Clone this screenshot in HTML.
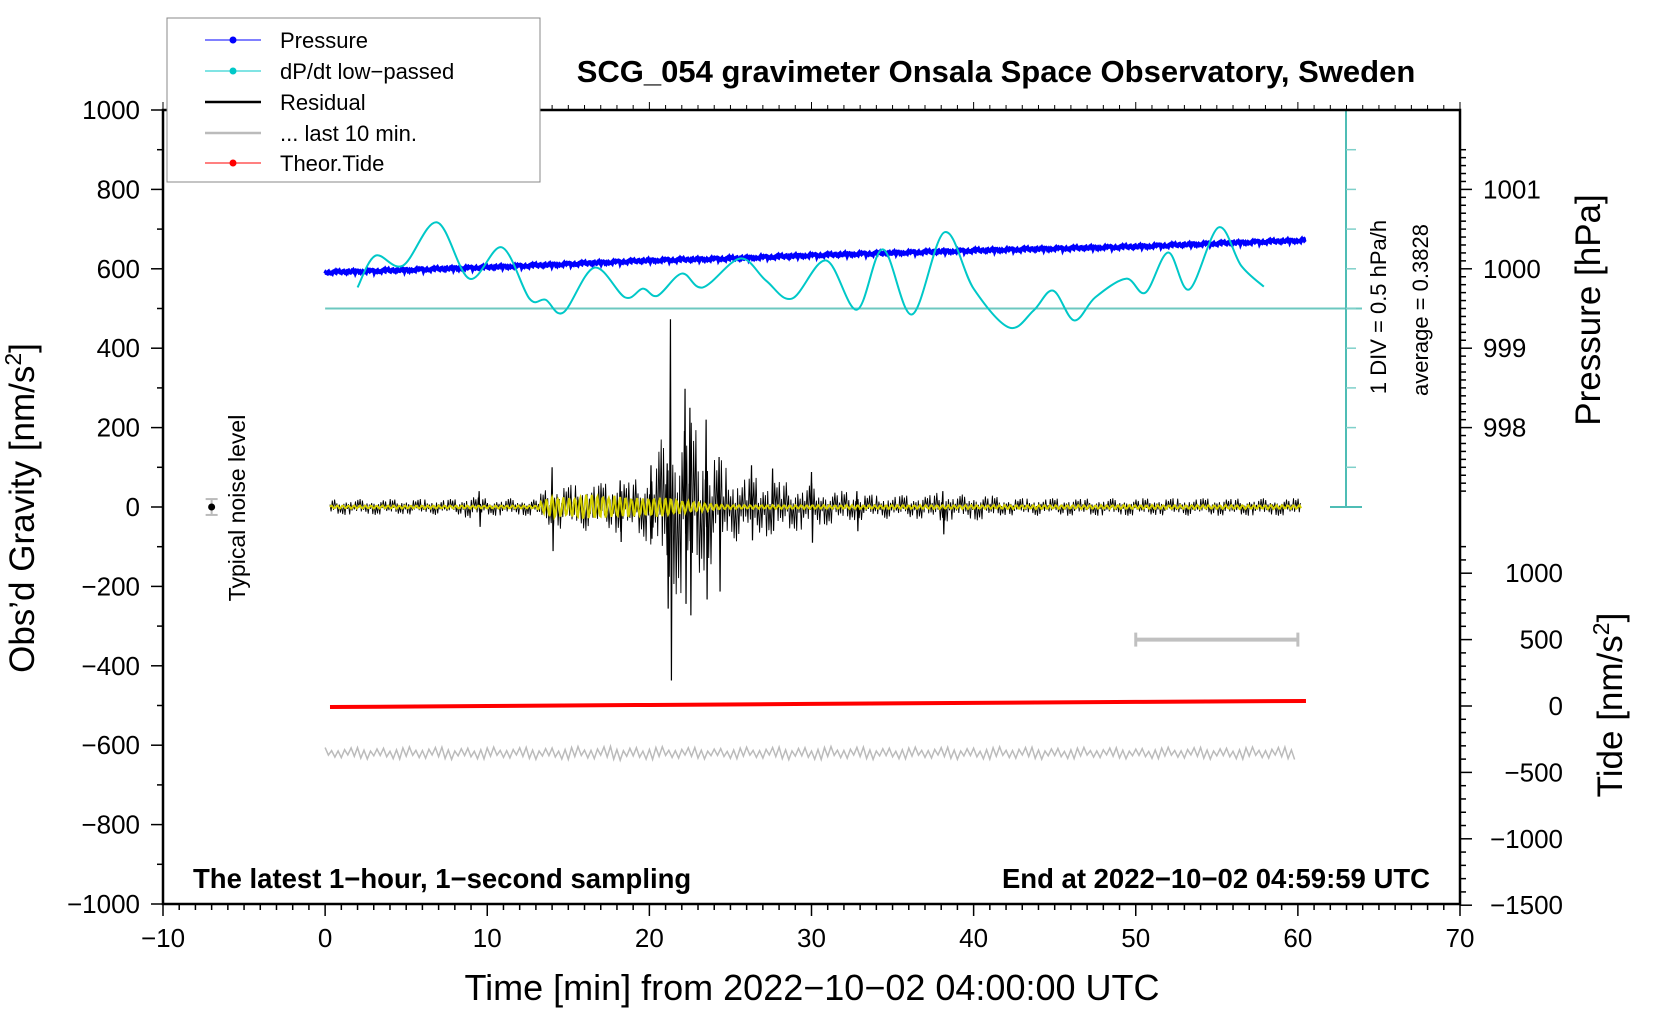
<!DOCTYPE html>
<html><head><meta charset="utf-8">
<style>
body{margin:0;background:#fff;}
svg{display:block;font-family:"Liberation Sans",Arial,sans-serif;}
</style></head>
<body>
<svg id="chart" width="1660" height="1020" viewBox="0 0 1660 1020" xmlns="http://www.w3.org/2000/svg">
<rect x="0" y="0" width="1660" height="1020" fill="#fff"/>
<g id="marks"></g>
<g id="axes"></g>
<text x="996" y="82" font-size="31" font-weight="bold" text-anchor="middle">SCG_054 gravimeter Onsala Space Observatory, Sweden</text>
<text x="193" y="888" font-size="27.5" font-weight="bold">The latest 1−hour, 1−second sampling</text>
<text x="1430" y="888" font-size="27.5" font-weight="bold" text-anchor="end">End at 2022−10−02 04:59:59 UTC</text>
<text x="812" y="1000" font-size="36" text-anchor="middle">Time [min] from 2022−10−02 04:00:00 UTC</text>
<text transform="translate(34,508) rotate(-90)" font-size="35" text-anchor="middle">Obs’d Gravity [nm/s<tspan font-size="23" dy="-13">2</tspan><tspan dy="13">]</tspan></text>
<text transform="translate(1600,310) rotate(-90)" font-size="35" text-anchor="middle">Pressure [hPa]</text>
<text transform="translate(1622,705) rotate(-90)" font-size="35" text-anchor="middle">Tide [nm/s<tspan font-size="23" dy="-13">2</tspan><tspan dy="13">]</tspan></text>
<text transform="translate(1386,307) rotate(-90)" font-size="22" text-anchor="middle">1 DIV = 0.5 hPa/h</text>
<text transform="translate(1428,310) rotate(-90)" font-size="22" text-anchor="middle">average = 0.3828</text>
<text transform="translate(245,508) rotate(-90)" font-size="23" text-anchor="middle">Typical noise level</text>
<g>
<rect x="167" y="18" width="373" height="164" fill="#fff" stroke="#888" stroke-width="1"/>
<g><line x1="205" y1="40" x2="261" y2="40" stroke="#00f" stroke-width="1"/><circle cx="233" cy="40" r="3.5" fill="#00f"/><text x="280" y="48" font-size="22">Pressure</text></g>
<g><line x1="205" y1="71" x2="261" y2="71" stroke="#00c8c8" stroke-width="1"/><circle cx="233" cy="71" r="3.5" fill="#00c8c8"/><text x="280" y="79" font-size="22">dP/dt low−passed</text></g>
<g><line x1="205" y1="102" x2="261" y2="102" stroke="#000" stroke-width="2.5"/><text x="280" y="110" font-size="22">Residual</text></g>
<g><line x1="205" y1="133" x2="261" y2="133" stroke="#bbb" stroke-width="2.5"/><text x="280" y="141" font-size="22">... last 10 min.</text></g>
<g><line x1="205" y1="163" x2="261" y2="163" stroke="#f00" stroke-width="1"/><circle cx="233" cy="163" r="3.5" fill="#f00"/><text x="280" y="171" font-size="22">Theor.Tide</text></g>
</g>
</svg>
<script>
// ---- data ----
const xTicks = [-10,0,10,20,30,40,50,60,70];
const gravTicks = [1000,800,600,400,200,0,-200,-400,-600,-800,-1000];
const pressTicks = [1001,1000,999,998];
const tideTicks = [1000,500,0,-500,-1000,-1500];
const pressTime = [0,5,10,15,20,25,30,35,40,45,50,55,60.5];
const pressVal = [999.955,999.985,1000.02,1000.06,1000.105,1000.13,1000.17,1000.2,1000.23,1000.255,1000.28,1000.32,1000.36];
const dpTime = [2.0,3.1,4.8,6.9,8.9,10.9,12.6,13.6,14.7,16.6,18.5,19.6,20.5,22.0,23.3,25.6,27.2,28.8,30.9,32.8,34.4,36.2,38.2,40.0,42.2,43.7,44.9,46.2,47.5,49.4,50.6,52.0,53.3,55.1,56.5,57.9];
const dpVal = [0.648,1.048,0.923,1.468,0.758,1.153,0.508,0.493,0.333,0.898,0.523,0.633,0.543,0.823,0.648,1.013,0.733,0.508,0.988,0.368,1.128,0.308,1.343,0.633,0.143,0.358,0.608,0.233,0.523,0.758,0.583,1.088,0.623,1.403,0.923,0.658];
const dpAverage = 0.3828;
const resAmp = [20,20,20,20,20,20,20,20,20,30,22,22,22,22,60,55,60,60,65,70,90,200,230,200,140,90,80,75,70,60,60,45,40,35,30,30,30,30,40,30,35,30,22,22,22,22,22,22,22,22,22,22,22,22,22,22,22,22,22,22,22];
const spikeTime = [14.0,21.3,22.2,22.5,23.5,21.1,24.3,20.1,26.3,27.6,30.0,32.8,38.1,9.5,18.2];
const spikeUp = [100,473,298,250,220,110,126,105,105,97,88,40,40,40,67];
const spikeDown = [-111,-437,-244,-273,-233,-256,-213,-80,-84,-60,-90,-61,-69,-50,-88];
const filtAmp = [4,4,4,4,4,4,4,4,4,4,4,4,4,4,30,25,32,32,28,25,25,25,18,12,8,5,5,5,5,5,5,5,5,5,5,5,5,5,5,5,5,5,5,5,5,5,5,5,5,5,5,5,5,5,5,5,5,5,5,5,5];
const last10Amp = [14,16,15,18,14,17,15,16,14,15,16];
const last10Offset = -620;
const tideTime = [0.3,10,20,30,40,50,60.5];
const tideVal = [-8,0,8,16,24,31,38];
const noiseTime = -7, noiseErr = 20;

// ---- axes funcs ----
const X0=163,X1=1460,YT=110,YB=904;
const xs = t => X0 + (t+10)/80*(X1-X0);
const yg = g => YT + (1000-g)/2000*(YB-YT);
const yp = p => yg(600 + (p-1000)*200);
const yd = v => yg(500 + (v-dpAverage)/0.5*100);
const yt = v => 706 - v*0.1328;
const NS='http://www.w3.org/2000/svg';
const marks=document.getElementById('marks'), axes=document.getElementById('axes');
function mk(tag,attrs,parent){const e=document.createElementNS(NS,tag);for(const k in attrs)e.setAttribute(k,attrs[k]);parent.appendChild(e);return e;}
const pat=[1,0.55,0.8,0.35,0.95,0.6,0.45,0.85,0.3,0.7,0.5,0.9,0.4];
function interp(arr,t){const i=Math.floor(t),f=t-i;const a=arr[Math.max(0,Math.min(arr.length-1,i))],b=arr[Math.max(0,Math.min(arr.length-1,i+1))];return a+(b-a)*f;}

// dp/dt baseline and scale bar
let e=mk('line',{x1:xs(0),y1:yd(dpAverage),x2:1362,y2:yd(dpAverage),stroke:'#6cc8c0','stroke-width':2},marks);

e=mk('g',{},marks);
mk('line',{x1:1346,y1:YT,x2:1346,y2:yg(0),stroke:'#4fbdb5','stroke-width':2},e);
mk('line',{x1:1330,y1:YT,x2:1362,y2:YT,stroke:'#4fbdb5','stroke-width':2},e);
mk('line',{x1:1330,y1:yg(0),x2:1362,y2:yg(0),stroke:'#4fbdb5','stroke-width':2},e);
for(let g=100;g<1000;g+=100){mk('line',{x1:1346,y1:yg(g),x2:1356,y2:yg(g),stroke:'#7fd0ca','stroke-width':1.5},e);}

// pressure
{let d='';const step=1/30;
for(let t=pressTime[0];t<=pressTime[pressTime.length-1];t+=step){let j=0;while(j<pressTime.length-2&&t>pressTime[j+1])j++;
const f=(t-pressTime[j])/(pressTime[j+1]-pressTime[j]);const p=pressVal[j]+(pressVal[j+1]-pressVal[j])*f;
const k=Math.round(t*30);const n=(pat[k%13]-0.6)*0.04*((k%7)%2?1:-1);
d+=(d?'L':'M')+xs(t).toFixed(1)+','+yp(p+n).toFixed(1);}
e=mk('path',{d,fill:'none',stroke:'#0000ff','stroke-width':4},marks);
}

// dp/dt curve (catmull-rom)
{const P=dpTime.map((t,i)=>[xs(t),yd(dpVal[i])]);let d='M'+P[0][0]+','+P[0][1];
for(let i=0;i<P.length-1;i++){const p0=P[Math.max(0,i-1)],p1=P[i],p2=P[i+1],p3=P[Math.min(P.length-1,i+2)];
d+='C'+(p1[0]+(p2[0]-p0[0])/6)+','+(p1[1]+(p2[1]-p0[1])/6)+' '+(p2[0]-(p3[0]-p1[0])/6)+','+(p2[1]-(p3[1]-p1[1])/6)+' '+p2[0]+','+p2[1];}
e=mk('path',{d,fill:'none',stroke:'#00c8c8','stroke-width':2},marks);
}

// residual
{let d='';const step=1/14;let k=0;
for(let t=0.3;t<=60.2;t+=step,k++){let a=interp(resAmp,t)*pat[k%13];let v=(k%2?-1:1)*a*(k%5===0?0.3:1);
d+=(d?'L':'M')+xs(t).toFixed(1)+','+yg(v).toFixed(1);}
e=mk('path',{d,fill:'none',stroke:'#000','stroke-width':0.9},marks);

const sp=mk('g',{},marks);
spikeTime.forEach((t,i)=>{mk('path',{d:'M'+xs(t-0.05)+','+yg(0)+'L'+xs(t)+','+yg(spikeUp[i])+'L'+xs(t+0.06)+','+yg(spikeDown[i])+'L'+xs(t+0.1)+','+yg(0),fill:'none',stroke:'#000','stroke-width':1.2},sp);});}

// filtered (yellow)
{let d='';const step=1/20;let k=0;
for(let t=0.3;t<=60.2;t+=step,k++){const a=interp(filtAmp,t);const v=a*Math.sin(k*0.9)*(0.6+0.4*pat[k%13]);
d+=(d?'L':'M')+xs(t).toFixed(1)+','+yg(v).toFixed(1);}
e=mk('path',{d,fill:'none',stroke:'#d4d000','stroke-width':2},marks);
}

// last 10 min
{let d='';const step=1/5;let k=0;
for(let t=0;t<=60;t+=step,k++){const a=interp(last10Amp,t/6)*pat[(k*3)%13];const v=last10Offset+(k%2?-1:1)*a;
d+=(d?'L':'M')+xs(t).toFixed(1)+','+yg(v).toFixed(1);}
e=mk('path',{d,fill:'none',stroke:'#bbb','stroke-width':1.5},marks);
}

// tide
{let d='';tideTime.forEach((t,i)=>{d+=(i?'L':'M')+xs(t)+','+yt(tideVal[i]);});
e=mk('path',{d,fill:'none',stroke:'#f00','stroke-width':4},marks);
}

// 10-min scale bar
e=mk('g',{},marks);
mk('line',{x1:xs(50),y1:yt(500),x2:xs(60),y2:yt(500),stroke:'#c0c0c0','stroke-width':4},e);
mk('line',{x1:xs(50),y1:yt(500)-7,x2:xs(50),y2:yt(500)+7,stroke:'#c0c0c0','stroke-width':3},e);
mk('line',{x1:xs(60),y1:yt(500)-7,x2:xs(60),y2:yt(500)+7,stroke:'#c0c0c0','stroke-width':3},e);

// noise indicator
e=mk('g',{},marks);
mk('line',{x1:xs(noiseTime),y1:yg(noiseErr),x2:xs(noiseTime),y2:yg(-noiseErr),stroke:'#bbb','stroke-width':2},e);
mk('line',{x1:xs(noiseTime)-6,y1:yg(noiseErr),x2:xs(noiseTime)+6,y2:yg(noiseErr),stroke:'#bbb','stroke-width':2},e);
mk('line',{x1:xs(noiseTime)-6,y1:yg(-noiseErr),x2:xs(noiseTime)+6,y2:yg(-noiseErr),stroke:'#bbb','stroke-width':2},e);
mk('circle',{cx:xs(noiseTime),cy:yg(0),r:3.5,fill:'#000'},e);

// frame
e=mk('rect',{x:X0,y:YT,width:X1-X0,height:YB-YT,fill:'none',stroke:'#000','stroke-width':2.5},axes);

const xg=mk('g',{},axes);
for(let t=-10;t<=70;t++){const L=t%10===0?12:6;mk('line',{x1:xs(t),y1:YB,x2:xs(t),y2:YB+L,stroke:'#000','stroke-width':1.5},xg);mk('line',{x1:xs(t),y1:YT,x2:xs(t),y2:YT-(t%10===0?8:5),stroke:'#000','stroke-width':1},xg);}
xTicks.forEach(t=>{const tx=mk('text',{x:xs(t),y:947,'font-size':26,'text-anchor':'middle'},xg);tx.textContent=String(t).replace('-','−');});
const lg=mk('g',{},axes);
for(let g=-1000;g<=1000;g+=100){mk('line',{x1:X0,y1:yg(g),x2:X0-(g%200===0?12:6),y2:yg(g),stroke:'#000','stroke-width':1.5},lg);}
gravTicks.forEach(g=>{const tx=mk('text',{x:140,y:yg(g)+9,'font-size':26,'text-anchor':'end'},lg);tx.textContent=String(g).replace('-','−');});
const pg=mk('g',{},axes);
for(let i=0;i<=43;i++){const p=1001.5-i*0.1;const y=yp(p);if(y>540)break;mk('line',{x1:X1,y1:y,x2:X1+(Math.abs(p-Math.round(p))<0.01?12:6),y2:y,stroke:'#000','stroke-width':1.5},pg);}
pressTicks.forEach(p=>{const tx=mk('text',{x:1483,y:yp(p)+9,'font-size':26},pg);tx.textContent=p;});
const tg=mk('g',{},axes);
for(let v=-1500;v<=1200;v+=100){mk('line',{x1:X1,y1:yt(v),x2:X1+(v%500===0?12:6),y2:yt(v),stroke:'#000','stroke-width':1.5},tg);}
tideTicks.forEach(v=>{const tx=mk('text',{x:1563,y:yt(v)+9,'font-size':26,'text-anchor':'end'},tg);tx.textContent=String(v).replace('-','−');});
</script>
</body></html>
